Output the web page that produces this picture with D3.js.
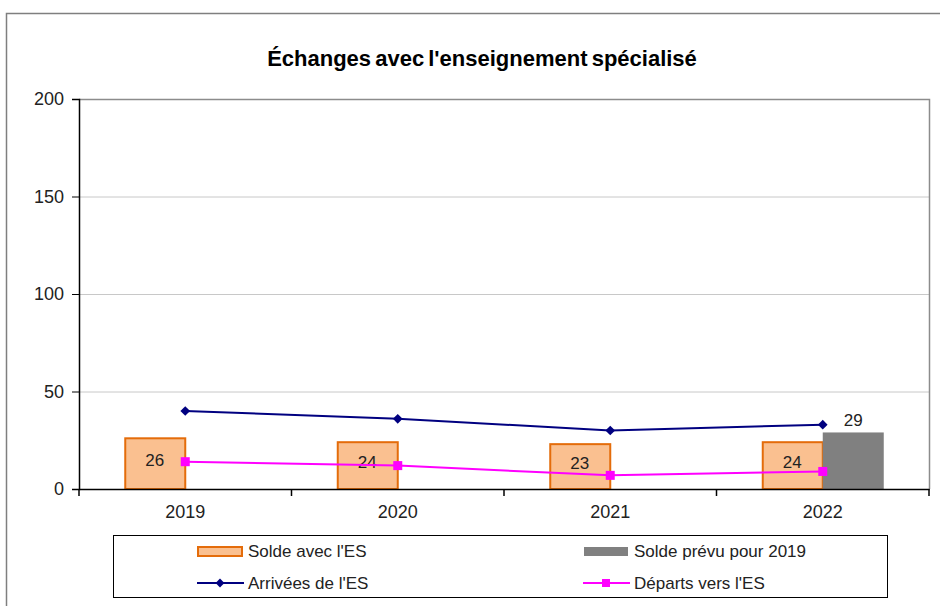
<!DOCTYPE html>
<html>
<head>
<meta charset="utf-8">
<script src="https://cdn.jsdelivr.net/npm/d3@7"></script>
<style>
  body { margin: 0; background: #fff; }
  svg { display: block; font-family: "Liberation Sans", Arial, sans-serif; }
</style>
</head>
<body>
<svg width="940" height="606"></svg>
<script>
const years = ["2019", "2020", "2021", "2022"];
const solde = [26, 24, 23, 24];
const soldePrevu = [null, null, null, 29];
const arrivees = [40, 36, 30, 33];
const departs = [14, 12, 7, 9];
const yTicks = [0, 50, 100, 150, 200];

const svg = d3.select("svg");
const W = 940, H = 606;
const m = { left: 79, right: 929, top: 99, bottom: 489 };

// outer frame
svg.append("rect")
    .attr("x", 6.5).attr("y", 13.5)
    .attr("width", W).attr("height", H)
    .attr("fill", "none").attr("stroke", "#7f7f7f").attr("stroke-width", 1.5);

svg.append("text")
    .attr("x", 482).attr("y", 66)
    .attr("text-anchor", "middle")
    .attr("font-size", 22).attr("font-weight", "bold")
    .attr("word-spacing", -2)
    .text("Échanges avec l'enseignement spécialisé");

const x = d3.scaleBand().domain(years).range([m.left, m.right]);
const y = d3.scaleLinear().domain([0, 200]).range([m.bottom, m.top]);

// gridlines
svg.append("g").selectAll("line")
    .data(yTicks.filter(d => d > 0 && d < 200))
    .enter().append("line")
    .attr("x1", m.left).attr("x2", m.right)
    .attr("y1", d => y(d) + 0.5).attr("y2", d => y(d) + 0.5)
    .attr("stroke", "#c8c8c8");

// plot box top/right
svg.append("path")
    .attr("d", `M${m.left},${m.top + 0.5}H${m.right + 0.5}V${m.bottom}`)
    .attr("fill", "none").attr("stroke", "#8c8c8c").attr("stroke-width", 1.5);

// bars
const centre = d => x(d) + x.bandwidth() / 2;
const barW = 61;
svg.append("g").selectAll("rect")
    .data(years.map((d, i) => ({ year: d, v: solde[i] })))
    .enter().append("rect")
    .attr("x", d => centre(d.year) - barW + 1)
    .attr("y", d => y(d.v))
    .attr("width", barW - 1)
    .attr("height", d => y(0) - y(d.v))
    .attr("fill", "#fac090").attr("stroke", "#e46c0a").attr("stroke-width", 2);

svg.append("g").selectAll("rect")
    .data(years.map((d, i) => ({ year: d, v: soldePrevu[i] })).filter(d => d.v != null))
    .enter().append("rect")
    .attr("x", d => centre(d.year))
    .attr("y", d => y(d.v))
    .attr("width", barW)
    .attr("height", d => y(0) - y(d.v))
    .attr("fill", "#808080");

// bar labels
svg.append("g").selectAll("text")
    .data(years.map((d, i) => ({ year: d, v: solde[i] })))
    .enter().append("text")
    .attr("x", d => centre(d.year) - barW / 2)
    .attr("y", d => (y(d.v) + y(0)) / 2 + 2)
    .attr("text-anchor", "middle").attr("font-size", 17).attr("fill", "#222")
    .text(d => d.v);

svg.append("g").selectAll("text")
    .data(years.map((d, i) => ({ year: d, v: soldePrevu[i] })).filter(d => d.v != null))
    .enter().append("text")
    .attr("x", d => centre(d.year) + barW / 2)
    .attr("y", d => y(d.v) - 6)
    .attr("text-anchor", "middle").attr("font-size", 17).attr("fill", "#222")
    .text(d => d.v);

// lines
const line = d3.line().x(d => centre(d.year)).y(d => y(d.v));
const arrData = years.map((d, i) => ({ year: d, v: arrivees[i] }));
const depData = years.map((d, i) => ({ year: d, v: departs[i] }));

svg.append("path").datum(arrData).attr("d", line)
    .attr("fill", "none").attr("stroke", "#000080").attr("stroke-width", 2);
svg.append("g").selectAll("path")
    .data(arrData).enter().append("path")
    .attr("d", d3.symbol(d3.symbolDiamond2, 60))
    .attr("transform", d => `translate(${centre(d.year)},${y(d.v)})`)
    .attr("fill", "#000080");

svg.append("path").datum(depData).attr("d", line)
    .attr("fill", "none").attr("stroke", "#ff00ff").attr("stroke-width", 2);
svg.append("g").selectAll("rect")
    .data(depData).enter().append("rect")
    .attr("x", d => centre(d.year) - 4.5).attr("y", d => y(d.v) - 4.5)
    .attr("width", 9).attr("height", 9)
    .attr("fill", "#ff00ff");

// axes
const yAxis = svg.append("g")
    .attr("transform", `translate(${m.left},0)`)
    .call(d3.axisLeft(y).tickValues(yTicks).tickSize(7).tickPadding(8));
yAxis.select(".domain").attr("stroke", "#000").attr("stroke-width", 1.5);
yAxis.selectAll("text").attr("font-size", 18).attr("fill", "#222")
    .attr("font-family", "Liberation Sans, Arial, sans-serif");

const xAxis = svg.append("g")
    .attr("transform", `translate(0,${m.bottom})`)
    .call(d3.axisBottom(x).tickSize(0).tickPadding(16));
xAxis.select(".domain").attr("stroke", "#000").attr("stroke-width", 1.5);
xAxis.selectAll("text").attr("font-size", 18).attr("fill", "#222")
    .attr("font-family", "Liberation Sans, Arial, sans-serif");
// boundary ticks between categories
xAxis.append("g").selectAll("line")
    .data(years.concat(["end"]))
    .enter().append("line")
    .attr("x1", (d, i) => m.left + i * x.step())
    .attr("x2", (d, i) => m.left + i * x.step())
    .attr("y1", 0).attr("y2", 7)
    .attr("stroke", "#000").attr("stroke-width", 1.5);

// legend
const lg = svg.append("g");
lg.append("rect")
    .attr("x", 113.5).attr("y", 535.5).attr("width", 774).attr("height", 62)
    .attr("fill", "#fff").attr("stroke", "#000").attr("stroke-width", 1);

const leg = [
    { label: "Solde avec l'ES", type: "bar", fill: "#fac090", stroke: "#e46c0a", lx: 197, ly: 551 },
    { label: "Solde prévu pour 2019", type: "bar", fill: "#808080", stroke: null, lx: 583, ly: 551 },
    { label: "Arrivées de l'ES", type: "diamond", fill: "#000080", lx: 197, ly: 583 },
    { label: "Départs vers l'ES", type: "square", fill: "#ff00ff", lx: 583, ly: 583 }
];
leg.forEach(d => {
    const g = lg.append("g").attr("transform", `translate(${d.lx},${d.ly})`);
    if (d.type === "bar") {
        g.append("rect").attr("x", 1).attr("y", -4).attr("width", 44).attr("height", 9)
            .attr("fill", d.fill)
            .attr("stroke", d.stroke || "none").attr("stroke-width", 2);
    } else {
        g.append("line").attr("x1", 0).attr("x2", 47).attr("y1", 0).attr("y2", 0)
            .attr("stroke", d.fill).attr("stroke-width", 2);
        if (d.type === "diamond") {
            g.append("path").attr("d", d3.symbol(d3.symbolDiamond2, 50))
                .attr("transform", "translate(23,0)").attr("fill", d.fill);
        } else {
            g.append("rect").attr("x", 19).attr("y", -4).attr("width", 8).attr("height", 8)
                .attr("fill", d.fill);
        }
    }
    g.append("text").attr("x", 51).attr("y", 6)
        .attr("font-size", 17).attr("fill", "#222").text(d.label);
});
</script>
</body>
</html>
